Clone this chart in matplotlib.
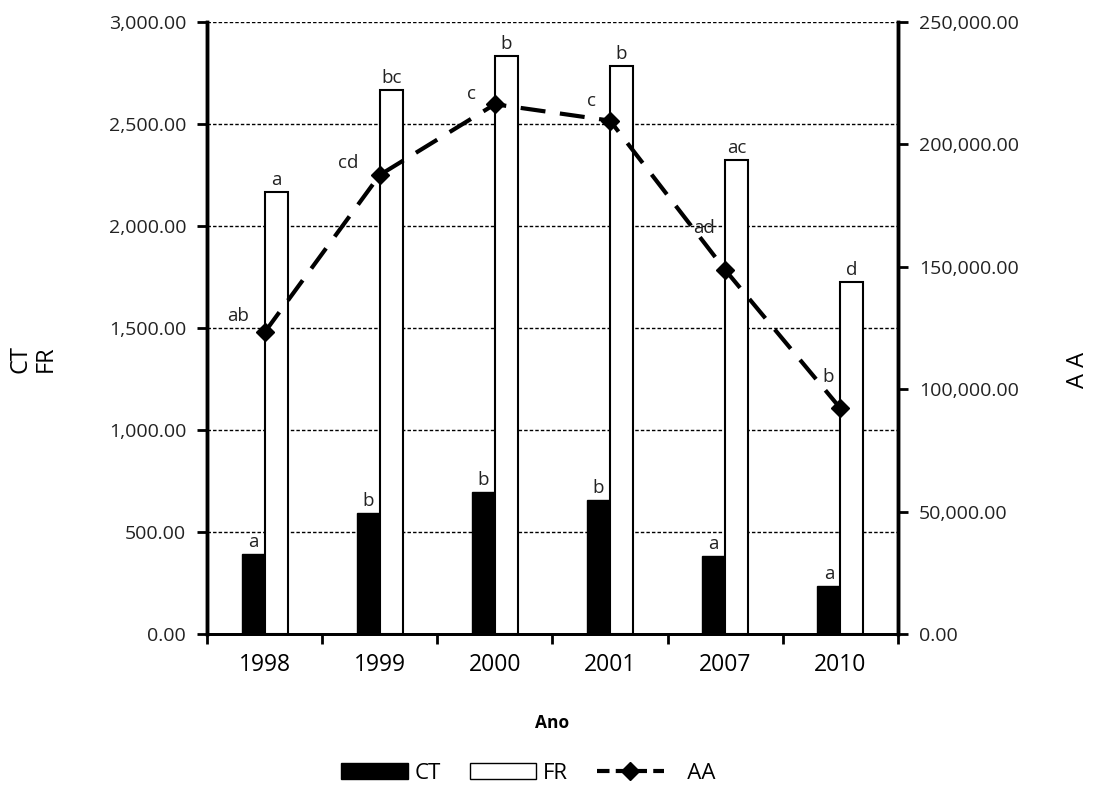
import numpy as np
import matplotlib
matplotlib.use('Agg')
import matplotlib.pyplot as plt
from matplotlib.ticker import FuncFormatter, FixedLocator
from matplotlib.lines import Line2D
from matplotlib.patches import Patch

plt.rcParams['font.family'] = ['Open Sans', 'DejaVu Sans']

years = ['1998', '1999', '2000', '2001', '2007', '2010']
ct = [394, 592, 698, 658, 384, 237]
fr = [2167, 2667, 2833, 2784, 2324, 1725]
aa = [123200, 187500, 216400, 209700, 148700, 92200]
ct_letters = ['a', 'b', 'b', 'b', 'a', 'a']
fr_letters = ['a', 'bc', 'b', 'b', 'ac', 'd']
aa_letters = ['ab', 'cd', 'c', 'c', 'ad', 'b']

fig = plt.figure(figsize=(10.94, 7.88), dpi=100)
ax = fig.add_axes([0.1892, 0.1954, 0.6316, 0.7767])
ax2 = ax.twinx()

x = np.arange(len(years))
w = 0.2

ax.bar(x - w / 2, ct, width=w, color='black', edgecolor='black', linewidth=1, zorder=3)
ax.bar(x + w / 2, fr, width=w, color='white', edgecolor='black', linewidth=1.5, zorder=3)

for i in range(len(years)):
    ax.annotate(ct_letters[i], (x[i] - w / 2, ct[i]), xytext=(0, 2), textcoords='offset points',
                ha='center', va='bottom', fontsize=13.5, color='#222222')
    ax.annotate(fr_letters[i], (x[i] + w / 2, fr[i]), xytext=(0, 2), textcoords='offset points',
                ha='center', va='bottom', fontsize=13.5, color='#222222')

ax2.plot(x, aa, color='black', lw=3, ls=(0, (6, 3.5)), marker='D', markersize=9, zorder=5)

# offsets of the AA letters from their markers (points)
aa_offsets = [(-19, 5), (-23, 2), (-17, 1), (-13, 8), (-15, 24), (-9, 16)]
for i in range(len(years)):
    ax2.annotate(aa_letters[i], (x[i], aa[i]), xytext=aa_offsets[i], textcoords='offset points',
                 ha='center', va='bottom', fontsize=13.5, color='#222222')

ax.set_xlim(-0.5, 5.5)
ax.set_ylim(0, 3000)
ax2.set_ylim(0, 250000)
ax.set_yticks(np.arange(0, 3001, 500))
ax2.set_yticks(np.arange(0, 250001, 50000))
fmt = FuncFormatter(lambda v, p: '{:,.2f}'.format(v))
ax.yaxis.set_major_formatter(fmt)
ax2.yaxis.set_major_formatter(fmt)

ax.xaxis.set_major_locator(FixedLocator(np.arange(-0.5, 6, 1)))
ax.xaxis.set_minor_locator(FixedLocator(x))
ax.set_xticklabels([''] * 7)
ax.set_xticklabels(years, minor=True)
ax.tick_params(axis='x', which='major', length=7, width=2, direction='out')
ax.tick_params(axis='x', which='minor', length=0, labelsize=16.5, pad=14)
ax.tick_params(axis='y', length=7, width=2, labelsize=14, pad=8, colors='#222222')
ax2.tick_params(axis='y', length=7, width=2, labelsize=14, pad=8, colors='#222222')
ax.tick_params(axis='y', color='black')
ax2.tick_params(axis='y', color='black')

ax.yaxis.grid(True, color='black', ls=(0, (2.5, 1.5)), lw=1)
ax.set_axisbelow(True)

for a in (ax, ax2):
    a.spines['top'].set_visible(False)
    a.spines['left'].set_linewidth(2.5)
    a.spines['right'].set_linewidth(2.5)
    a.spines['bottom'].set_linewidth(2)

ax.set_xlabel('Ano', fontsize=12.5, fontweight='bold', labelpad=26)
fig.text(0.03, 0.545, 'CT\nFR', rotation=90, ha='center', va='center', fontsize=17, linespacing=1.05)
fig.text(0.985, 0.53, 'A A', rotation=90, ha='center', va='center', fontsize=17)

handles = [Patch(facecolor='black', edgecolor='black'),
           Patch(facecolor='white', edgecolor='black'),
           Line2D([0], [0], color='black', lw=3, ls=(0, (3, 1.5)), marker='D', markersize=9)]
fig.legend(handles, ['CT', 'FR', '   AA'], loc='center', bbox_to_anchor=(0.483, 0.019),
           ncol=3, frameon=False, fontsize=16, handlelength=3.0, handleheight=0.75,
           handletextpad=0.3, columnspacing=1.3)

fig.savefig('out.png', dpi=100)
